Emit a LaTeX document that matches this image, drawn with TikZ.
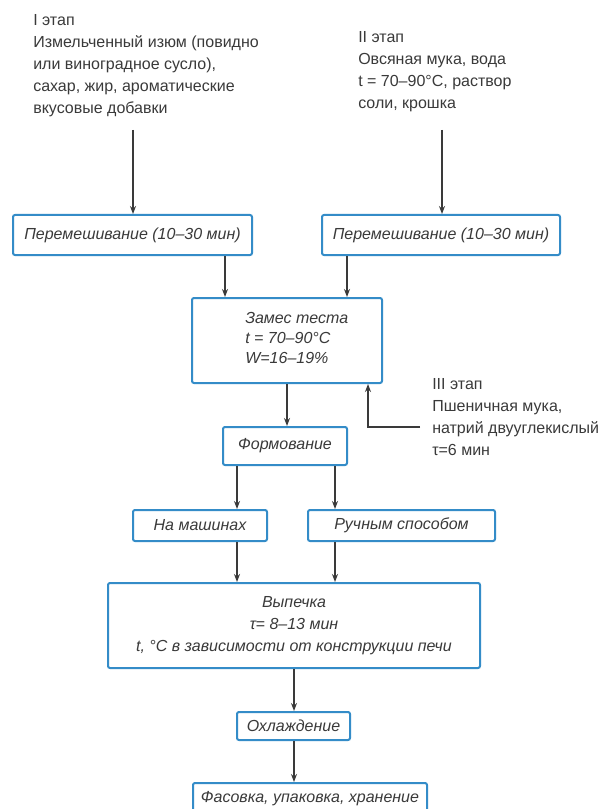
\documentclass[tikz,border=0pt]{standalone}
\usepackage{fontspec}
\setmainfont{Liberation Sans}
\newfontfamily\gost{Liberation Sans}
\usetikzlibrary{arrows.meta}
\definecolor{boxblue}{HTML}{348CC8}
\definecolor{ink}{HTML}{3A3A3A}
\tikzset{
 procbox/.style={draw=boxblue, line width=1.5pt, rounded corners=1.5pt, fill=white, inner sep=0pt, text=ink, font=\gost\itshape\fontsize{12pt}{16.5pt}\selectfont, align=center},
 lbl/.style={inner sep=0pt, text=ink, font=\gost\fontsize{12pt}{16.5pt}\selectfont, align=left, anchor=north west},
 arr/.style={draw=ink, line width=1.2pt, -{Stealth[length=6pt,width=4.5pt]}},
 ln/.style={draw=ink, line width=1.2pt}
}
\begin{document}
\begin{tikzpicture}[x=0.75pt,y=-0.75pt]
\useasboundingbox (0,0) rectangle (610,809);
\clip (0,0) rectangle (610,809);
\fill[white] (0,0) rectangle (610,809);

% labels
\node[lbl] (lab1) at (33,14) {I этап\\Измельченный изюм (повидно\\или виноградное сусло),\\сахар, жир, ароматические\\вкусовые добавки};
\node[lbl] (lab2) at (358,31) {II этап\\Овсяная мука, вода\\t = 70–90°C, раствор\\соли, крошка};
\node[lbl] (lab3) at (432,378) {III этап\\Пшеничная мука,\\натрий двууглекислый\\τ=6 мин};

% boxes
\node[procbox, minimum width=179.25pt, minimum height=30pt] (L1) at (132.5,235) {Перемешивание (10–30 мин)};
\node[procbox, minimum width=178.5pt, minimum height=30pt] (R1) at (441,235) {Перемешивание (10–30 мин)};
\node[procbox, minimum width=142.5pt, minimum height=63.75pt] (C) at (287,340.5) {};
\node[lbl, font=\gost\itshape\fontsize{12pt}{15pt}\selectfont] (Ctxt) at (245,312) {Замес теста\\t = 70–90°C\\W=16–19\%};
\node[procbox, minimum width=93pt, minimum height=28.5pt] (F) at (285,446) {Формование};
\node[procbox, minimum width=100.5pt, minimum height=23.25pt] (M) at (200,525.5) {На машинах};
\node[procbox, minimum width=140.25pt, minimum height=23.25pt] (H) at (401.5,525.5) {Ручным способом};
\node[procbox, minimum width=279pt, minimum height=63.75pt] (B) at (294,625.5) {Выпечка\\τ= 8–13 мин\\t, °C в зависимости от конструкции печи};
\node[procbox, minimum width=84.75pt, minimum height=21pt] (O) at (293.5,726) {Охлаждение};
\node[procbox, minimum width=175.5pt, minimum height=24pt] (P) at (310,799) {Фасовка, упаковка, хранение};

% helper coordinates
\coordinate (s1) at (133,130);
\coordinate (s2) at (442,130);
\coordinate (xa) at (225,0);
\coordinate (xb) at (347,0);
\coordinate (xc) at (287,0);
\coordinate (xd) at (368,0);
\coordinate (t3) at (420,427);
\coordinate (xe) at (237,0);
\coordinate (xf) at (335,0);
\coordinate (xg) at (294,0);

% connectors
\draw[arr] (s1) -- (L1.north -| s1);
\draw[arr] (s2) -- (R1.north -| s2);
\draw[arr] (L1.south -| xa) -- (C.north -| xa);
\draw[arr] (R1.south -| xb) -- (C.north -| xb);
\draw[arr] (C.south -| xc) -- (F.north -| xc);
\draw[arr] (t3) -| (C.south -| xd);
\draw[arr] (F.south -| xe) -- (M.north -| xe);
\draw[arr] (F.south -| xf) -- (H.north -| xf);
\draw[arr] (M.south -| xe) -- (B.north -| xe);
\draw[arr] (H.south -| xf) -- (B.north -| xf);
\draw[arr] (B.south -| xg) -- (O.north -| xg);
\draw[arr] (O.south -| xg) -- (P.north -| xg);
\end{tikzpicture}
\end{document}
